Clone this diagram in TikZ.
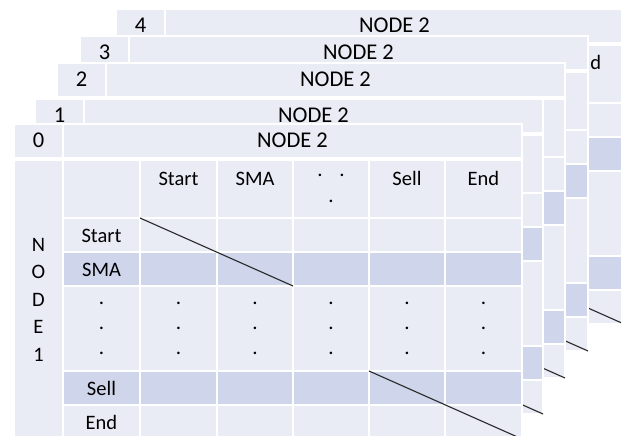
\documentclass[tikz,border=0pt]{standalone}
\usepackage{fontspec}
\setmainfont{Carlito}
\definecolor{cellbg}{HTML}{E9EBF5}
\definecolor{cellband}{HTML}{CFD5EA}
\tikzset{
  celltext/.style={inner sep=0pt, font=\fontsize{20.5}{27.5}\selectfont},
  headtext/.style={inner sep=0pt, anchor=base, font=\fontsize{22.5}{27}\selectfont},
  dotmark/.style={inner sep=0pt, anchor=center, font=\fontsize{21}{24}\selectfont},
  gridline/.style={white, line width=1.5pt},
  diag/.style={black!85, line width=1.1pt},
}
\begin{document}
\begin{tikzpicture}[x=1pt, y=-1pt]
\useasboundingbox (0,0) rectangle (621,436);
\clip (0,0) rectangle (621,436);
\foreach \idx/\dx/\dy in {4/102/115, 3/66/88, 2/43/61, 1/21/25, 0/0/0} {
  \begin{scope}[shift={(14+\dx,124-\dy)}]
    \fill[cellbg] (0,0) rectangle (508,315);
    \fill[cellband] (49,128) rectangle (508,162) (49,247) rectangle (508,281);
    \draw[gridline] (0,0) rectangle (508,315);
    \draw[gridline, line width=3.5pt] (0,35) -- (508,35);
    \foreach \y in {94,128,162,247,281} \draw[gridline] (49,\y) -- (508,\y);
    \draw[gridline] (49,0) -- (49,315);
    \foreach \x in {126,203,279,355,431} \draw[gridline] (\x,36) -- (\x,315);
    \draw[diag] (126,94) -- (279,162);
    \draw[diag] (355,247) -- (508,315);
    \node[headtext] (num\idx) at (24.5,23.5) {\idx};
    \node[headtext] (top\idx) at (278.5,23.5) {NODE 2};
    \ifnum\idx=4
      \node[celltext, anchor=base] (col4End) at (469.5,61) {End};
    \fi
  \end{scope}
}
\begin{scope}[shift={(14,124)}]
  \node[celltext, align=center] (side) at (24.5,175.5) {N\\O\\D\\E\\1};
  \foreach \lab/\x in {Start/164.5, SMA/241, Sell/393, End/469.5}
    \node[celltext, anchor=base] (col\lab) at (\x,61) {\lab};
  \foreach \lab/\y in {Start/118, SMA/152, Sell/271, End/305}
    \node[celltext, anchor=base] (row\lab) at (87.5,\y) {\lab};
  \foreach \x [count=\c] in {87.5,164.5,241,317,393,469.5}
    \foreach \y [count=\i] in {179,204,229}
      \node[dotmark] (dot\c-\i) at (\x,\y) {.};
  \node[dotmark] (hdot1) at (306,51) {.};
  \node[dotmark] (hdot2) at (328,51) {.};
  \node[dotmark] (hdot3) at (317,77) {.};
\end{scope}
\end{tikzpicture}
\end{document}
